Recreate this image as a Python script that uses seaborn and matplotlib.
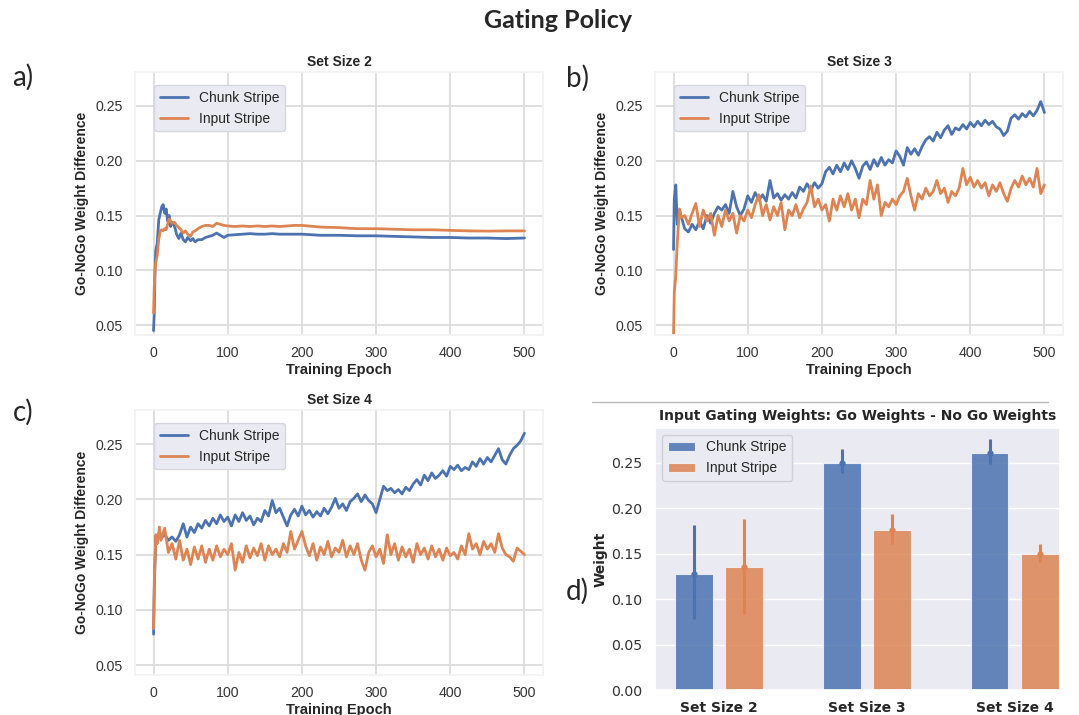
import matplotlib
matplotlib.use("Agg")
import matplotlib.pyplot as plt
from matplotlib.lines import Line2D
import numpy as np
import pandas as pd
import seaborn as sns

# ---------------------------------------------------------------- data
stripes = ["Chunk Stripe", "Input Stripe"]
set_sizes = ["Set Size 2", "Set Size 3", "Set Size 4"]

# Set size 2: Go-NoGo weight difference per training epoch
epochs_ss2 = [0, 1, 2, 3,
              5, 7, 9, 11, 13, 15, 17, 19, 21, 23, 25,
              28, 31, 34, 37, 40, 43, 46,
              50, 53, 56,
              60, 65, 70, 75, 80, 85, 90, 95, 100,
              110, 120, 130, 140, 150, 160, 170, 180, 190, 200,
              225, 250, 275, 300, 325, 350, 375, 400, 425, 450, 475, 500]
chunk_ss2 = [0.045, 0.062, 0.100, 0.118,
             0.125, 0.146, 0.152, 0.158, 0.160, 0.152, 0.156, 0.145, 0.150, 0.140, 0.144,
             0.141, 0.133, 0.129, 0.134, 0.128, 0.126, 0.130,
             0.127, 0.129, 0.126,
             0.128, 0.128, 0.130, 0.131, 0.132, 0.134, 0.132, 0.130, 0.132,
             0.1325, 0.133, 0.1335, 0.133, 0.133, 0.1335, 0.133, 0.133, 0.133, 0.133,
             0.132, 0.132, 0.1315, 0.1315, 0.131, 0.1305, 0.130, 0.130, 0.1295, 0.1295, 0.129, 0.1295]
input_ss2 = [0.061, 0.085, 0.100, 0.107,
             0.114, 0.128, 0.136, 0.137, 0.136, 0.138, 0.137, 0.142, 0.147, 0.145, 0.143,
             0.144, 0.141, 0.139, 0.137, 0.134, 0.136, 0.133,
             0.131, 0.135, 0.136,
             0.138, 0.140, 0.141, 0.141, 0.140, 0.143, 0.142, 0.141, 0.1405,
             0.140, 0.1405, 0.140, 0.1405, 0.140, 0.1405, 0.140, 0.1405, 0.141, 0.141,
             0.1395, 0.139, 0.138, 0.138, 0.1375, 0.137, 0.137, 0.1365, 0.136, 0.1358, 0.136, 0.136]

# Set sizes 3 and 4 share the same epoch grid
epochs_ss34 = [0, 1, 3, 5, 8] + list(range(10, 501, 5))

chunk_ss3 = [0.119, 0.165, 0.178, 0.142, 0.155,
             0.150, 0.138, 0.135, 0.142, 0.137, 0.145, 0.138, 0.150, 0.143, 0.152,
             0.158, 0.155, 0.160, 0.152, 0.172, 0.158, 0.150, 0.156, 0.168, 0.162,
             0.171, 0.164, 0.169, 0.163, 0.182, 0.166, 0.170, 0.164, 0.169, 0.165,
             0.171, 0.166, 0.176, 0.172, 0.179, 0.173, 0.180, 0.175, 0.179, 0.190,
             0.194, 0.188, 0.196, 0.190, 0.198, 0.192, 0.200, 0.193, 0.184, 0.195,
             0.199, 0.192, 0.201, 0.195, 0.203, 0.196, 0.201, 0.198, 0.209, 0.204,
             0.196, 0.212, 0.206, 0.211, 0.205, 0.213, 0.219, 0.222, 0.218, 0.226,
             0.221, 0.228, 0.232, 0.224, 0.230, 0.228, 0.233, 0.229, 0.235, 0.231,
             0.236, 0.232, 0.237, 0.233, 0.236, 0.231, 0.229, 0.223, 0.227, 0.239,
             0.242, 0.238, 0.243, 0.240, 0.245, 0.241, 0.246, 0.254, 0.244]
input_ss3 = [0.042, 0.080, 0.095, 0.125, 0.156,
             0.148, 0.150, 0.142, 0.152, 0.161, 0.140, 0.155, 0.145, 0.152, 0.132,
             0.150, 0.140, 0.155, 0.145, 0.152, 0.134, 0.150, 0.145, 0.155, 0.148,
             0.160, 0.169, 0.150, 0.160, 0.146, 0.158, 0.150, 0.162, 0.137, 0.155,
             0.150, 0.160, 0.148, 0.156, 0.162, 0.177, 0.158, 0.165, 0.155, 0.160,
             0.145, 0.165, 0.155, 0.168, 0.158, 0.170, 0.155, 0.165, 0.148, 0.165,
             0.160, 0.182, 0.165, 0.178, 0.150, 0.162, 0.158, 0.165, 0.160, 0.168,
             0.172, 0.184, 0.168, 0.155, 0.170, 0.165, 0.175, 0.168, 0.172, 0.182,
             0.170, 0.175, 0.162, 0.172, 0.168, 0.175, 0.193, 0.178, 0.185, 0.176,
             0.182, 0.175, 0.180, 0.168, 0.178, 0.172, 0.180, 0.170, 0.163, 0.175,
             0.182, 0.176, 0.186, 0.178, 0.184, 0.176, 0.193, 0.170, 0.178]

chunk_ss4 = [0.078, 0.120, 0.166, 0.163, 0.170,
             0.165, 0.168, 0.163, 0.166, 0.162, 0.168, 0.178, 0.166, 0.175, 0.170,
             0.178, 0.174, 0.181, 0.176, 0.183, 0.178, 0.186, 0.180, 0.184, 0.176,
             0.186, 0.180, 0.188, 0.181, 0.185, 0.177, 0.183, 0.180, 0.190, 0.185,
             0.199, 0.188, 0.192, 0.184, 0.176, 0.186, 0.191, 0.185, 0.194, 0.186,
             0.190, 0.184, 0.189, 0.185, 0.192, 0.187, 0.193, 0.201, 0.192, 0.196,
             0.190, 0.198, 0.201, 0.205, 0.198, 0.204, 0.199, 0.196, 0.188, 0.200,
             0.212, 0.208, 0.210, 0.206, 0.209, 0.205, 0.211, 0.208, 0.214, 0.218,
             0.213, 0.222, 0.217, 0.224, 0.219, 0.222, 0.226, 0.221, 0.230, 0.227,
             0.231, 0.226, 0.229, 0.227, 0.234, 0.230, 0.237, 0.232, 0.238, 0.234,
             0.240, 0.246, 0.236, 0.232, 0.240, 0.246, 0.249, 0.253, 0.260]
input_ss4 = [0.083, 0.125, 0.168, 0.160, 0.175,
             0.163, 0.174, 0.152, 0.160, 0.146, 0.163, 0.145, 0.155, 0.141, 0.157,
             0.146, 0.158, 0.143, 0.155, 0.145, 0.158, 0.148, 0.155, 0.150, 0.160,
             0.136, 0.152, 0.143, 0.158, 0.147, 0.156, 0.149, 0.160, 0.145, 0.158,
             0.150, 0.155, 0.148, 0.160, 0.152, 0.171, 0.155, 0.163, 0.171, 0.158,
             0.149, 0.160, 0.145, 0.157, 0.150, 0.162, 0.148, 0.156, 0.152, 0.163,
             0.148, 0.158, 0.150, 0.160, 0.145, 0.136, 0.152, 0.158, 0.148, 0.155,
             0.142, 0.168, 0.150, 0.160, 0.145, 0.157, 0.148, 0.155, 0.143, 0.160,
             0.150, 0.156, 0.146, 0.158, 0.148, 0.155, 0.145, 0.156, 0.149, 0.152,
             0.146, 0.158, 0.150, 0.169, 0.155, 0.160, 0.150, 0.162, 0.155, 0.160,
             0.152, 0.169, 0.156, 0.150, 0.148, 0.144, 0.156, 0.153, 0.150]

# Final input-gating weights (Go - NoGo) with error ranges
bar_chunk = [0.128, 0.250, 0.261]
bar_input = [0.135, 0.176, 0.149]
err_lo_chunk = [0.078, 0.238, 0.248]
err_hi_chunk = [0.181, 0.265, 0.276]
err_lo_input = [0.084, 0.161, 0.141]
err_hi_input = [0.188, 0.193, 0.160]

# ---------------------------------------------------------------- style
sns.set_theme(style="whitegrid")
plt.rcParams["font.family"] = ["Liberation Sans", "DejaVu Sans"]
palette = {"Chunk Stripe": "#4C72B0", "Input Stripe": "#DD8452"}

W, H = 1079, 715
fig = plt.figure(figsize=(W / 100, H / 100), dpi=100)


def rect(left, top, right, bottom):
    return [left / W, 1 - bottom / H, (right - left) / W, (bottom - top) / H]


def long_frame(epochs, chunk, inp):
    return pd.DataFrame({
        "epoch": list(epochs) * 2,
        "value": list(chunk) + list(inp),
        "stripe": [stripes[0]] * len(chunk) + [stripes[1]] * len(inp),
    })


def line_panel(pos, title, epochs, chunk, inp):
    ax = fig.add_axes(rect(*pos))
    df = long_frame(epochs, chunk, inp)
    sns.lineplot(data=df, x="epoch", y="value", hue="stripe", hue_order=stripes,
                 palette=palette, estimator=None, linewidth=2.0, ax=ax)
    ax.set_xlim(-25, 525)
    ax.set_ylim(0.041, 0.281)
    ax.set_xticks([0, 100, 200, 300, 400, 500])
    ax.set_yticks([0.05, 0.10, 0.15, 0.20, 0.25])
    ax.set_yticklabels(["0.05", "0.10", "0.15", "0.20", "0.25"])
    ax.grid(color="#dcdcdc", linewidth=1.3)
    for s in ax.spines.values():
        s.set_color("#f2f2f2")
    ax.tick_params(axis="both", length=0, labelsize=10.2, labelcolor="#333333")
    ax.tick_params(axis="y", pad=9)
    ax.tick_params(axis="x", pad=8)
    ax.set_title(title, fontsize=10, fontweight="bold", pad=4.5, color="#262626")
    ax.set_xlabel("Training Epoch", fontsize=10.5, fontweight="bold", labelpad=2, color="#262626")
    ax.set_ylabel("Go-NoGo Weight Difference", fontsize=10, fontweight="bold", labelpad=4,
                  color="#262626")
    handles, labels = ax.get_legend_handles_labels()
    leg = ax.legend(handles, labels, loc="upper left", bbox_to_anchor=(0.047, 0.95),
                    borderaxespad=0, fontsize=10, frameon=True, facecolor="#EAEAF2",
                    edgecolor="#d6d6de", framealpha=1.0)
    for t in leg.get_texts():
        t.set_color("#262626")
    return ax


line_panel((135, 72, 543, 335), "Set Size 2", epochs_ss2, chunk_ss2, input_ss2)
line_panel((655, 72, 1063, 335), "Set Size 3", epochs_ss34, chunk_ss3, input_ss3)
line_panel((135, 410, 543, 675), "Set Size 4", epochs_ss34, chunk_ss4, input_ss4)

# ---------------------------------------------------------------- bar panel
with sns.axes_style("darkgrid"):
    axd = fig.add_axes(rect(655, 428, 1060, 690))
bars = pd.DataFrame({
    "set_size": set_sizes * 2,
    "weight": bar_chunk + bar_input,
    "stripe": [stripes[0]] * 3 + [stripes[1]] * 3,
})
sns.barplot(data=bars, x="set_size", y="weight", hue="stripe", hue_order=stripes,
            palette=palette, saturation=1, width=0.68, gap=0.25, errorbar=None,
            alpha=0.85, edgecolor="#f4f4f8", linewidth=0.8, ax=axd)

lows = {stripes[0]: err_lo_chunk, stripes[1]: err_lo_input}
highs = {stripes[0]: err_hi_chunk, stripes[1]: err_hi_input}
means = {stripes[0]: bar_chunk, stripes[1]: bar_input}
for cont, name in zip(axd.containers, stripes):
    xs = [p.get_x() + p.get_width() / 2 for p in cont.patches]
    m = np.array(means[name])
    yerr = [m - np.array(lows[name]), np.array(highs[name]) - m]
    axd.errorbar(xs, m, yerr=yerr, fmt="o", ms=3.5, color=palette[name],
                 elinewidth=2.2, capsize=0, zorder=5)

axd.set_xlim(-0.434, 2.307)
axd.set_ylim(0, 0.288)
axd.set_yticks([0.0, 0.05, 0.10, 0.15, 0.20, 0.25])
axd.set_yticklabels(["0.00", "0.05", "0.10", "0.15", "0.20", "0.25"])
axd.tick_params(axis="both", length=0)
axd.tick_params(axis="y", labelsize=10.2, labelcolor="#333333", pad=9)
axd.tick_params(axis="x", labelsize=10, labelcolor="#262626", pad=8)
for lab in axd.get_xticklabels():
    lab.set_fontweight("bold")
axd.set_xlabel("")
axd.set_ylabel("Weight", fontsize=10, fontweight="bold", labelpad=3, color="#262626")
axd.set_title("Input Gating Weights: Go Weights - No Go Weights", fontsize=10,
              fontweight="bold", pad=6, color="#262626")
h, l = axd.get_legend_handles_labels()
legd = axd.legend(h, l, loc="upper left", fontsize=10, frameon=True,
                  facecolor="#EAEAF2", edgecolor="#d0d0d8", framealpha=1.0)
for t in legd.get_texts():
    t.set_color("#262626")

# ---------------------------------------------------------------- figure text
fig.add_artist(Line2D([592 / W, 1048 / W], [1 - 402 / H, 1 - 402 / H],
                      color="#b8b8b8", linewidth=1.0))
fig.text(558 / W, 1 - 20 / H, "Gating Policy", ha="center", va="center",
         fontsize=18, fontweight="bold", family=["Lato", "DejaVu Sans"])
for lbl, x, y in [("a)", 23, 77), ("b)", 578, 78), ("c)", 23, 412), ("d)", 577, 591)]:
    fig.text(x / W, 1 - y / H, lbl, ha="center", va="center", fontsize=20,
             family=["Lato", "DejaVu Sans"])

fig.savefig("out.png", dpi=100)
